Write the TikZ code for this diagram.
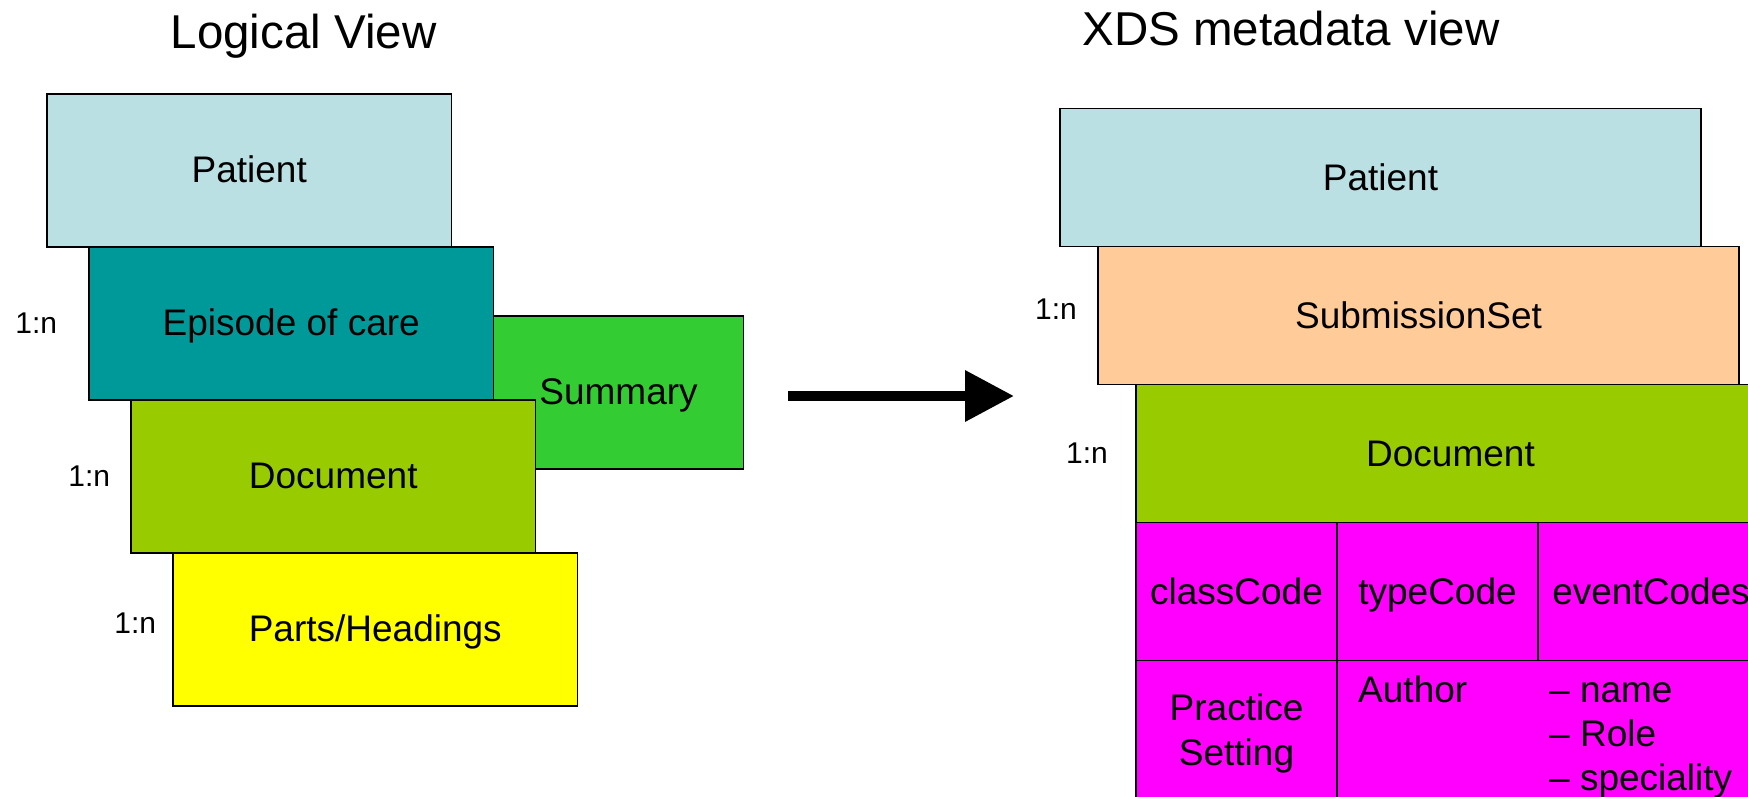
\documentclass[tikz,border=0pt]{standalone}
\usepackage{fontspec}
\setmainfont{Liberation Sans}
\usetikzlibrary{arrows.meta, positioning}

\definecolor{patientblue}{RGB}{187,224,227}
\definecolor{episodeteal}{RGB}{0,153,153}
\definecolor{summarygreen}{RGB}{51,204,51}
\definecolor{documentgreen}{RGB}{153,204,0}
\definecolor{partsyellow}{RGB}{255,255,0}
\definecolor{submissionpeach}{RGB}{255,204,153}
\definecolor{metamagenta}{RGB}{255,0,255}

\tikzset{
  boxline/.style={draw, rectangle, line width=1.6pt, outer sep=0pt},
  oneline/.style={text height=25.5pt, text depth=0pt},
  layerbox/.style={boxline, oneline, minimum width=404.5pt, minimum height=153pt},
  xdsbox/.style={boxline, oneline, minimum width=641pt, minimum height=138pt},
  metacell/.style={boxline, fill=metamagenta, minimum width=201pt, minimum height=138pt},
  codecell/.style={metacell, oneline},
  cardlabel/.style={inner sep=0pt, font=\fontsize{30}{36}\selectfont},
  viewtitle/.style={anchor=base, font=\fontsize{47.5}{56}\selectfont}
}

\begin{document}
\begin{tikzpicture}[x=1pt, y=-1pt, every node/.style={font=\fontsize{37}{45}\selectfont}]
\useasboundingbox (0,0) rectangle (1748,796);
\clip (0,0) rectangle (1748,796);

% Titulos
\node (titlelogical) [viewtitle] at (303.6,48) {Logical View};
\node (titlexds) [viewtitle] at (1291,45) {XDS metadata view};

% Vista logica
\node (patientL) [layerbox, anchor=north west, fill=patientblue] at (47,93.7) {Patient};
\node (episode) [layerbox, below=0pt of patientL, xshift=42pt, fill=episodeteal] {Episode of care};
\node (summary) [layerbox, minimum width=250pt, right=0pt of episode, yshift=-69pt, fill=summarygreen] {Summary};
\node (documentL) [layerbox, below=0pt of episode, xshift=42pt, fill=documentgreen] {Document};
\node (parts) [layerbox, below=0pt of documentL, xshift=42pt, fill=partsyellow] {Parts/Headings};

% Cardinalidades (izquierda)
\node (cardepisode) [cardlabel, left=31.7pt of episode] {1:n};
\node (carddocumentL) [cardlabel, left=20.7pt of documentL] {1:n};
\node (cardparts) [cardlabel, left=16.7pt of parts, yshift=6pt] {1:n};

% Flecha de transformacion
\coordinate (arrowtail) at (788,396);
\coordinate (arrowtip) at (1014,396);
\draw[-{Triangle[length=49pt, width=49pt]}, line width=10pt] (arrowtail) -- (arrowtip);

% Vista de metadatos XDS
\node (patientR) [xdsbox, anchor=north west, fill=patientblue] at (1060,108.3) {Patient};
\node (submission) [xdsbox, below=0pt of patientR, xshift=38pt, fill=submissionpeach] {SubmissionSet};
\node (documentR) [xdsbox, minimum width=629pt, below=0pt of submission.south west, anchor=north west, xshift=38pt, fill=documentgreen] {Document};

% Cardinalidades (derecha)
\node (cardsubmission) [cardlabel, left=21pt of submission, yshift=6pt] {1:n};
\node (carddocumentR) [cardlabel, left=28pt of documentR] {1:n};

% Atributos del documento
\node (classcode) [codecell, below right=0pt and 0pt of documentR.south west] {classCode};
\node (typecode) [codecell, right=0pt of classcode] {typeCode};
\node (eventcodes) [codecell, minimum width=226pt, right=0pt of typecode] {eventCodes};
\node (practice) [metacell, minimum height=147pt, below=0pt of classcode, align=center] {Practice\\Setting};
\node (author) [metacell, minimum height=147pt, minimum width=431pt, right=0pt of practice] {};
\node (authorlist) [inner sep=0pt, font=\fontsize{37}{44}\selectfont, below right=11pt and 21pt of author.north west] {\begin{tabular}{@{}p{191pt}@{}l@{}}Author & – name\\ & – Role\\ & – speciality\end{tabular}};
\end{tikzpicture}
\end{document}
